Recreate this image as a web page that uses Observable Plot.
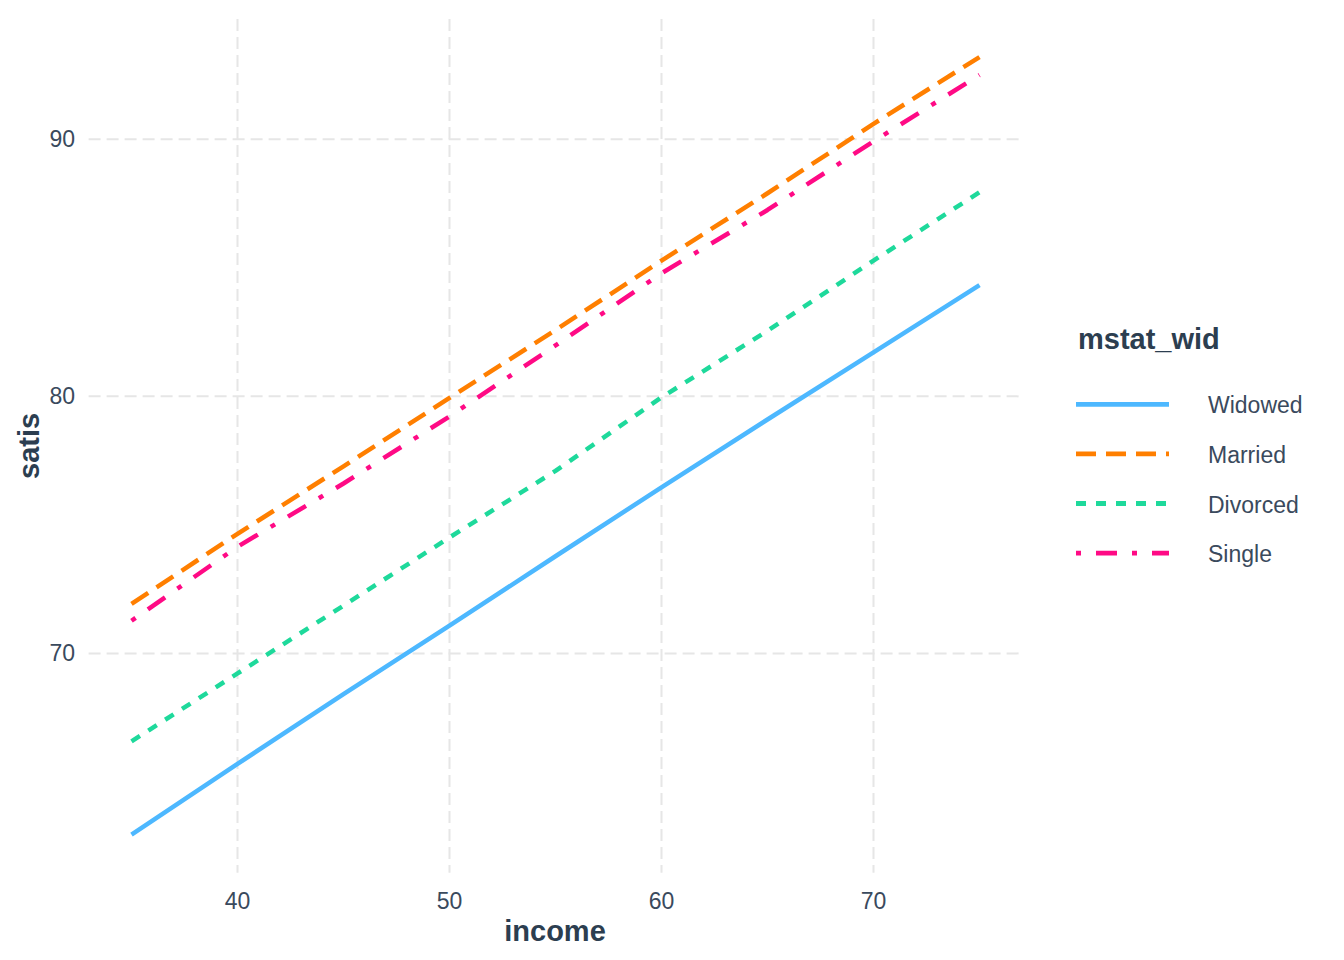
<!DOCTYPE html>
<html>
<head>
<meta charset="utf-8">
<script src="https://cdn.jsdelivr.net/npm/d3@7"></script>
<script src="https://cdn.jsdelivr.net/npm/@observablehq/plot@0.6"></script>
<style>
  body { margin: 0; background: #ffffff; }
  #chart { width: 1344px; height: 960px; }
</style>
</head>
<body>
<div id="chart"></div>
<script>
// Predicted satisfaction by income, one line per marital status group
const income   = [35, 40, 45, 50, 55, 60, 65, 70, 75];
const widowed  = [62.95, 65.70, 68.42, 71.08, 73.78, 76.46, 79.10, 81.71, 84.33];
const married  = [71.93, 74.65, 77.28, 79.94, 82.58, 85.28, 87.90, 90.60, 93.20];
const divorced = [66.58, 69.22, 71.86, 74.51, 77.10, 79.96, 82.55, 85.28, 87.94];
const single   = [71.27, 74.15, 76.61, 79.22, 81.98, 84.79, 87.25, 89.92, 92.50];

const groups  = ["Widowed", "Married", "Divorced", "Single"];
const series  = [widowed, married, divorced, single];
const colors  = ["#4DB8FF", "#FF7F00", "#1ED99B", "#FF0A85"];
const dashes  = ["none", "20,10", "10,10", "5,15,21,15"];

const xTicks = [40, 50, 60, 70];
const yTicks = [70, 80, 90];

const rows = groups.flatMap((g, i) =>
  income.map((x, j) => ({ income: x, satis: series[i][j], group: g }))
);

const W = 1344, H = 960;
const font = "'Liberation Sans', Arial, sans-serif";
const titleColor = "#2C3E50";
const textColor = "#3A4A5D";
const gridStyle = { stroke: "#E6E6E6", strokeOpacity: 1, strokeWidth: 2, strokeDasharray: "12,6" };

const plot = Plot.plot({
  width: W,
  height: H,
  marginLeft: 88.6,
  marginRight: 322.6,
  marginTop: 19,
  marginBottom: 87.3,
  x: { domain: [33, 77] },
  y: { domain: [61.45, 94.66] },
  style: { fontFamily: font, color: textColor, background: "#ffffff", overflow: "visible" },
  marks: [
    Plot.gridX(xTicks, gridStyle),
    Plot.gridY(yTicks, gridStyle),
    Plot.axisX(xTicks, { tickSize: 0, tickPadding: 19, fontSize: 23, label: null }),
    Plot.axisY(yTicks, { tickSize: 0, tickPadding: 14, fontSize: 23, label: null }),
    ...groups.map((g, i) =>
      Plot.line(rows.filter(d => d.group === g), {
        x: "income",
        y: "satis",
        stroke: colors[i],
        strokeWidth: 4.5,
        strokeDasharray: dashes[i],
        strokeLinecap: "butt",
        strokeLinejoin: "round"
      })
    )
  ]
});

document.getElementById("chart").appendChild(plot);

// Axis titles and legend
const svg = d3.select(plot);
const xr = plot.scale("x").range;
const yr = plot.scale("y").range;

svg.append("text")
  .attr("x", (xr[0] + xr[1]) / 2)
  .attr("y", 941)
  .attr("text-anchor", "middle")
  .attr("font-family", font)
  .attr("font-size", 29)
  .attr("font-weight", "bold")
  .attr("fill", titleColor)
  .text("income");

svg.append("text")
  .attr("transform", `translate(38.6,${(yr[0] + yr[1]) / 2}) rotate(-90)`)
  .attr("text-anchor", "middle")
  .attr("font-family", font)
  .attr("font-size", 29)
  .attr("font-weight", "bold")
  .attr("fill", titleColor)
  .text("satis");

const legend = svg.append("g")
  .attr("font-family", font)
  .attr("text-anchor", "start");

legend.append("text")
  .attr("x", 1078)
  .attr("y", 349.3)
  .attr("text-anchor", "start")
  .attr("font-size", 29)
  .attr("font-weight", "bold")
  .attr("fill", titleColor)
  .text("mstat_wid");

groups.forEach((g, i) => {
  const cy = 404.3 + i * 49.6;
  legend.append("line")
    .attr("x1", 1076).attr("x2", 1169)
    .attr("y1", cy).attr("y2", cy)
    .attr("stroke", colors[i])
    .attr("stroke-width", 4.8)
    .attr("stroke-dasharray", dashes[i])
    .attr("stroke-linecap", "butt");
  legend.append("text")
    .attr("x", 1208)
    .attr("y", cy + 9)
    .attr("text-anchor", "start")
    .attr("font-size", 23)
    .attr("fill", textColor)
    .text(g);
});
</script>
</body>
</html>
